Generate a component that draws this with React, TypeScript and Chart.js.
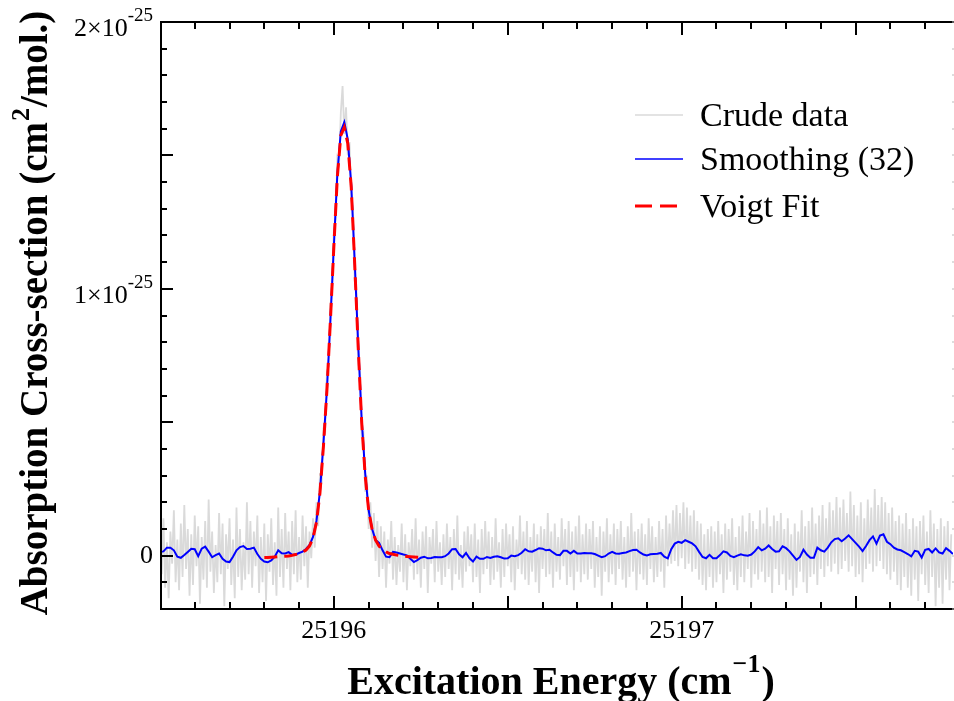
import React, { useEffect, useRef } from 'react';
import { Chart, registerables } from 'chart.js';

Chart.register(...registerables);

// Axis ranges (y in units of 1e-25 cm^2/mol.)
const X_MIN = 25195.503;
const X_MAX = 25197.78;
const Y_MIN = -0.2;
const Y_MAX = 2.0;
const Y_EXP = '-25';

const X_TICK_LABELS = [25196, 25197];
const Y_TICK_LABELS = [0, 1, 2];

const LEGEND_LABELS = ['Crude data', 'Smoothing (32)', 'Voigt Fit'];
const X_TITLE = 'Excitation Energy (cm';
const X_TITLE_SUP = '\u22121';
const Y_TITLE = 'Absorption Cross-section (cm';
const Y_TITLE_SUP = '2';
const Y_TITLE_END = '/mol.)';

// Smoothed series (32-point smoothing), sampled every 0.01 cm^-1
const SMOOTH_START = 25195.5;
const SMOOTH_STEP = 0.01;
const smoothValues = [
  0.014, 0.016, 0.03, 0.03, 0.02, -0.004, -0.008, 0.002, 0.014, 0.026,
  0.024, -0.002, 0.026, 0.034, 0.015, -0.006, 0.002, 0.008, -0.012, -0.022,
  -0.024, -0.004, 0.02, 0.032, 0.036, 0.025, 0.026, 0.03, 0.006, -0.012,
  -0.022, -0.025, -0.018, -0.004, 0.02, 0.009, 0.008, 0.013, 0.003, 0.004,
  0.01, 0.015, 0.025, 0.04, 0.07, 0.13, 0.24, 0.42, 0.62, 0.88,
  1.16, 1.43, 1.59, 1.625, 1.56, 1.39, 1.1, 0.79, 0.51, 0.31,
  0.17, 0.1, 0.058, 0.048, 0.02, -0.004, -0.006, 0.014, 0.012, 0.008,
  0.004, 0.001, -0.012, -0.024, -0.017, -0.008, -0.004, -0.01, -0.009, -0.005,
  -0.006, -0.006, -0.002, 0.008, 0.024, 0.025, 0.005, -0.006, 0.01, -0.01,
  -0.022, -0.004, -0.012, -0.012, -0.005, -0.009, -0.004, -0.002, -0.006, -0.011,
  -0.01, 0.0, -0.002, 0.002, 0.011, 0.024, 0.016, 0.015, 0.021, 0.028,
  0.026, 0.02, 0.022, 0.012, 0.003, 0.002, 0.018, 0.018, 0.008, 0.018,
  0.008, 0.008, 0.01, 0.009, 0.009, 0.006, 0.0, -0.006, -0.002, 0.008,
  0.014, 0.008, 0.007, 0.01, 0.012, 0.017, 0.021, 0.022, 0.012, 0.004,
  0.001, 0.005, 0.006, 0.007, 0.01, -0.004, -0.01, 0.024, 0.045, 0.052,
  0.048, 0.058, 0.052, 0.046, 0.035, 0.014, -0.005, -0.01, 0.003, -0.01,
  -0.01, 0.002, 0.016, 0.012, -0.001, -0.006, 0.0, 0.005, 0.001, 0.0,
  0.004, 0.016, 0.032, 0.02, 0.026, 0.038, 0.025, 0.015, 0.016, 0.035,
  0.028, 0.016, 0.0, -0.016, -0.005, 0.022, 0.004, -0.008, -0.008, 0.03,
  0.02, 0.015, 0.03, 0.05, 0.062, 0.065, 0.054, 0.064, 0.076, 0.062,
  0.048, 0.034, 0.017, 0.036, 0.058, 0.072, 0.045, 0.075, 0.08, 0.052,
  0.043, 0.03, 0.023, 0.02, 0.013, 0.006, -0.003, 0.018, 0.015, -0.007,
  0.022, 0.025, 0.012, 0.027, 0.012, 0.008, 0.028, 0.018, 0.006,
];

// Crude (raw) data, sampled every 0.005 cm^-1
const CRUDE_START = 25195.5;
const CRUDE_STEP = 0.005;
const crudeValues = [
  // 25195.500 - 25195.925
  0.11, -0.07, 0.14, -0.12, 0.05, -0.16, 0.09, -0.03, 0.17, -0.1,
  0.06, -0.13, 0.12, -0.08, 0.19, -0.05, 0.1, -0.15, 0.08, -0.11,
  0.15, -0.04, 0.11, -0.18, 0.07, -0.09, 0.13, -0.12, 0.21, -0.06,
  0.09, -0.14, 0.04, -0.1, 0.16, -0.07, 0.12, -0.19, 0.08, -0.05,
  0.14, -0.11, 0.06, -0.16, 0.18, -0.08, 0.1, -0.13, 0.05, -0.09,
  0.2, -0.07, 0.13, -0.12, 0.09, -0.04, 0.15, -0.14, 0.07, -0.1,
  0.12, -0.17, 0.08, -0.06, 0.14, -0.11, 0.05, -0.15, 0.18, -0.08,
  0.1, -0.12, 0.16, -0.05, 0.09, -0.13, 0.13, -0.07, 0.17, -0.1,
  0.07, -0.09, 0.15, -0.04, 0.11, -0.12,
  // 25195.930 - 25196.125 (peak)
  0.09, -0.01, 0.14, 0.03, 0.2, 0.11, 0.31, 0.27, 0.47, 0.46,
  0.69, 0.71, 0.94, 0.99, 1.22, 1.26, 1.49, 1.47, 1.66, 1.76,
  1.58, 1.68, 1.5, 1.55, 1.33, 1.3, 1.03, 0.99, 0.72, 0.69,
  0.45, 0.46, 0.24, 0.3, 0.1, 0.2, 0.03, 0.16, -0.02, 0.13,
  // 25196.130 - 25197.775
  -0.08, 0.11, -0.05, 0.09, -0.12, 0.06, -0.03, 0.13, -0.09, 0.07,
  -0.11, 0.04, -0.06, 0.12, -0.1, 0.08, -0.13, 0.05, -0.04, 0.1,
  -0.09, 0.14, -0.07, 0.06, -0.12, 0.09, -0.05, 0.11, -0.14, 0.07,
  -0.03, 0.1, -0.1, 0.13, -0.06, 0.05, -0.11, 0.08, -0.08, 0.12,
  -0.05, 0.07, -0.13, 0.1, -0.07, 0.15, -0.09, 0.04, -0.12, 0.09,
  -0.06, 0.11, -0.04, 0.08, -0.1, 0.12, -0.08, 0.06, -0.14, 0.1,
  -0.07, 0.13, -0.05, 0.09, -0.11, 0.07, -0.09, 0.14, -0.06, 0.05,
  -0.12, 0.1, -0.08, 0.12, -0.04, 0.08, -0.1, 0.11, -0.13, 0.06,
  -0.05, 0.15, -0.07, 0.09, -0.09, 0.13, -0.11, 0.07, -0.06, 0.12,
  -0.1, 0.08, -0.14, 0.11, -0.05, 0.1, -0.08, 0.16, -0.07, 0.09,
  -0.12, 0.12, -0.06, 0.07, -0.09, 0.14, -0.04, 0.1, -0.11, 0.13,
  -0.08, 0.09, -0.13, 0.11, -0.06, 0.15, -0.1, 0.08, -0.07, 0.12,
  -0.09, 0.1, -0.05, 0.13, -0.12, 0.07, -0.08, 0.11, -0.15, 0.09,
  -0.06, 0.14, -0.1, 0.08, -0.07, 0.12, -0.11, 0.1, -0.05, 0.13,
  -0.09, 0.07, -0.12, 0.11, -0.08, 0.16, -0.06, 0.09, -0.13, 0.1,
  -0.07, 0.12, -0.09, 0.08, -0.11, 0.14, -0.05, 0.11, -0.1, 0.07,
  -0.08, 0.13, -0.06, 0.1, -0.12, 0.15, -0.04, 0.12, -0.03, 0.17,
  -0.02, 0.19, -0.04, 0.16, -0.01, 0.2, -0.05, 0.18, -0.03, 0.15,
  -0.06, 0.17, -0.05, 0.13, -0.09, 0.12, -0.11, 0.08, -0.13, 0.1,
  -0.08, 0.11, -0.12, 0.09, -0.1, 0.13, -0.07, 0.08, -0.14, 0.12,
  -0.09, 0.1, -0.06, 0.14, -0.11, 0.07, -0.13, 0.11, -0.08, 0.15,
  -0.1, 0.09, -0.05, 0.16, -0.12, 0.13, -0.07, 0.1, -0.09, 0.17,
  -0.06, 0.12, -0.1, 0.18, -0.08, 0.11, -0.14, 0.15, -0.05, 0.13,
  -0.11, 0.16, -0.07, 0.1, -0.13, 0.14, -0.09, 0.08, -0.15, 0.12,
  -0.12, 0.09, -0.06, 0.17, -0.1, 0.11, -0.14, 0.13, -0.08, 0.18,
  -0.07, 0.12, -0.11, 0.15, -0.05, 0.19, -0.08, 0.14, -0.04, 0.2,
  -0.06, 0.17, -0.03, 0.22, -0.07, 0.18, -0.05, 0.21, -0.02, 0.16,
  -0.06, 0.24, -0.04, 0.19, -0.08, 0.15, -0.07, 0.2, -0.1, 0.14,
  -0.05, 0.21, -0.03, 0.18, -0.06, 0.25, -0.04, 0.19, -0.02, 0.22,
  -0.05, 0.2, -0.07, 0.16, -0.09, 0.18, -0.06, 0.13, -0.11, 0.15,
  -0.13, 0.12, -0.08, 0.16, -0.12, 0.1, -0.15, 0.14, -0.09, 0.11,
  -0.17, 0.13, -0.07, 0.15, -0.11, 0.09, -0.14, 0.17, -0.08, 0.12,
  -0.19, 0.1, -0.12, 0.14, -0.18, 0.11, -0.09, 0.13, -0.13, 0.08,
];

// Voigt fit, sampled every 0.01 cm^-1
const FIT_START = 25195.8;
const FIT_STEP = 0.01;
const fitValues = [
  -0.007, -0.007, -0.006, -0.005, -0.004, -0.003, -0.002, -0.001, 0.001, 0.004,
  0.008, 0.013, 0.021, 0.036, 0.066, 0.125, 0.235, 0.41, 0.62, 0.88,
  1.16, 1.42, 1.575, 1.605, 1.545, 1.38, 1.09, 0.78, 0.5, 0.3,
  0.17, 0.098, 0.058, 0.036, 0.022, 0.014, 0.008, 0.005, 0.002, 0.0,
  -0.002, -0.003, -0.004, -0.005, -0.006, -0.007,
];

const SERIF = "'Liberation Serif', 'Times New Roman', serif";
const CRUDE_COLOR = '#dadada';
const SMOOTH_COLOR = '#0000ff';
const FIT_COLOR = '#ff0000';

const toPoints = (start: number, step: number, values: number[]) =>
  values.map((y, i) => ({ x: start + i * step, y }));

const framePlugin = {
  id: 'framePlugin',
  afterDraw(chart: any) {
    const ctx: CanvasRenderingContext2D = chart.ctx;
    const { left, right, top, bottom } = chart.chartArea;
    const xs = chart.scales.x;
    const ys = chart.scales.y;
    ctx.save();

    // frame
    ctx.strokeStyle = '#000';
    ctx.lineWidth = 2;
    ctx.beginPath();
    ctx.moveTo(right + 1, top);
    ctx.lineTo(left, top);
    ctx.lineTo(left, bottom);
    ctx.lineTo(right + 1, bottom);
    ctx.stroke();

    // x ticks (every 0.1, major every 0.5)
    for (let t = Math.ceil(X_MIN * 10); t <= Math.floor(X_MAX * 10); t++) {
      const v = t / 10;
      const px = Math.round(xs.getPixelForValue(v));
      const len = t % 5 === 0 ? 13 : 7;
      ctx.beginPath();
      ctx.moveTo(px, bottom);
      ctx.lineTo(px, bottom - len);
      ctx.moveTo(px, top);
      ctx.lineTo(px, top + len);
      ctx.stroke();
    }
    // y ticks (every 0.1e-25, major every 0.5e-25)
    for (let t = Math.ceil(Y_MIN * 10); t <= Math.floor(Y_MAX * 10); t++) {
      const v = t / 10;
      const py = Math.round(ys.getPixelForValue(v));
      const len = t % 5 === 0 ? 12 : 6;
      ctx.strokeStyle = '#000';
      ctx.lineWidth = 2;
      ctx.beginPath();
      ctx.moveTo(left, py);
      ctx.lineTo(left + len, py);
      ctx.stroke();
      ctx.strokeStyle = '#bbb';
      ctx.lineWidth = 1;
      ctx.beginPath();
      ctx.moveTo(right - 1, py);
      ctx.lineTo(right + 1, py);
      ctx.stroke();
    }

    // x tick labels
    ctx.fillStyle = '#000';
    ctx.font = `26px ${SERIF}`;
    ctx.textAlign = 'center';
    ctx.textBaseline = 'alphabetic';
    X_TICK_LABELS.forEach((v) => {
      ctx.fillText(String(v), xs.getPixelForValue(v), bottom + 29);
    });

    // y tick labels
    const labelRight = left - 8;
    Y_TICK_LABELS.forEach((v) => {
      const py = ys.getPixelForValue(v);
      if (v === 0) {
        ctx.font = `26px ${SERIF}`;
        ctx.textAlign = 'right';
        ctx.textBaseline = 'middle';
        ctx.fillText('0', labelRight, py + 1);
        return;
      }
      ctx.textBaseline = 'alphabetic';
      ctx.textAlign = 'left';
      ctx.font = `19px ${SERIF}`;
      const supW = ctx.measureText(Y_EXP).width;
      ctx.font = `26px ${SERIF}`;
      const main = `${v}\u00d710`;
      const mainW = ctx.measureText(main).width;
      const x0 = labelRight - supW - mainW;
      ctx.fillText(main, x0, py + 14);
      ctx.font = `19px ${SERIF}`;
      ctx.fillText(Y_EXP, x0 + mainW, py - 1);
    });

    // x axis title
    ctx.textAlign = 'left';
    ctx.textBaseline = 'alphabetic';
    ctx.font = `bold 40px ${SERIF}`;
    const w1 = ctx.measureText(X_TITLE).width;
    const w3 = ctx.measureText(')').width;
    ctx.font = `bold 26px ${SERIF}`;
    const w2 = ctx.measureText(X_TITLE_SUP).width;
    const xTotal = w1 + w2 + w3 + 2;
    const xs0 = 561 - xTotal / 2;
    ctx.font = `bold 40px ${SERIF}`;
    ctx.fillText(X_TITLE, xs0, 694);
    ctx.font = `bold 26px ${SERIF}`;
    ctx.fillText(X_TITLE_SUP, xs0 + w1 + 1, 672);
    ctx.font = `bold 40px ${SERIF}`;
    ctx.fillText(')', xs0 + w1 + w2 + 2, 694);

    // y axis title (rotated)
    ctx.save();
    ctx.translate(47, 313);
    ctx.rotate(-Math.PI / 2);
    ctx.font = `bold 39px ${SERIF}`;
    const yw1 = ctx.measureText(Y_TITLE).width;
    const yw3 = ctx.measureText(Y_TITLE_END).width;
    ctx.font = `bold 26px ${SERIF}`;
    const yw2 = ctx.measureText(Y_TITLE_SUP).width;
    const yTotal = yw1 + yw2 + yw3 + 2;
    const ys0 = -yTotal / 2;
    ctx.font = `bold 39px ${SERIF}`;
    ctx.fillText(Y_TITLE, ys0, 0);
    ctx.font = `bold 26px ${SERIF}`;
    ctx.fillText(Y_TITLE_SUP, ys0 + yw1 + 1, -18);
    ctx.font = `bold 39px ${SERIF}`;
    ctx.fillText(Y_TITLE_END, ys0 + yw1 + yw2 + 2, 0);
    ctx.restore();

    // legend
    const legendY = [115, 159, 206];
    const colors = [CRUDE_COLOR, SMOOTH_COLOR, FIT_COLOR];
    LEGEND_LABELS.forEach((label, i) => {
      const y = legendY[i];
      ctx.strokeStyle = colors[i];
      ctx.lineWidth = i === 2 ? 3 : 1.5;
      ctx.setLineDash(i === 2 ? [17, 8] : []);
      ctx.beginPath();
      ctx.moveTo(635, y);
      ctx.lineTo(i === 2 ? 677 : 683, y);
      ctx.stroke();
      ctx.setLineDash([]);
      ctx.fillStyle = '#000';
      ctx.font = `34px ${SERIF}`;
      ctx.textAlign = 'left';
      ctx.textBaseline = 'alphabetic';
      ctx.fillText(label, 700, y + 11);
    });

    ctx.restore();
  },
};

export default function App() {
  const canvasRef = useRef<HTMLCanvasElement | null>(null);

  useEffect(() => {
    const canvas = canvasRef.current;
    if (!canvas) return;
    const chart = new Chart(canvas, {
      type: 'line',
      data: {
        datasets: [
          {
            label: LEGEND_LABELS[2],
            data: toPoints(FIT_START, FIT_STEP, fitValues),
            borderColor: FIT_COLOR,
            borderWidth: 3,
            borderDash: [13, 7],
            pointRadius: 0,
            tension: 0,
            order: 1,
          },
          {
            label: LEGEND_LABELS[1],
            data: toPoints(SMOOTH_START, SMOOTH_STEP, smoothValues),
            borderColor: SMOOTH_COLOR,
            borderWidth: 2,
            pointRadius: 0,
            tension: 0,
            order: 2,
          },
          {
            label: LEGEND_LABELS[0],
            data: toPoints(CRUDE_START, CRUDE_STEP, crudeValues),
            borderColor: CRUDE_COLOR,
            borderWidth: 1.8,
            pointRadius: 0,
            tension: 0,
            order: 3,
          },
        ],
      },
      options: {
        animation: false,
        responsive: false,
        maintainAspectRatio: false,
        events: [],
        layout: { padding: { left: 161, right: 1, top: 22, bottom: 92 } },
        scales: {
          x: { type: 'linear', min: X_MIN, max: X_MAX, display: false },
          y: { type: 'linear', min: Y_MIN, max: Y_MAX, display: false },
        },
        plugins: {
          legend: { display: false },
          tooltip: { enabled: false },
        },
      },
      plugins: [framePlugin],
    } as any);
    return () => chart.destroy();
  }, []);

  return (
    <div style={{ position: 'fixed', left: 0, top: 0, width: 954, height: 701, background: '#fff' }}>
      <canvas ref={canvasRef} width={954} height={701} style={{ display: 'block' }} />
    </div>
  );
}
